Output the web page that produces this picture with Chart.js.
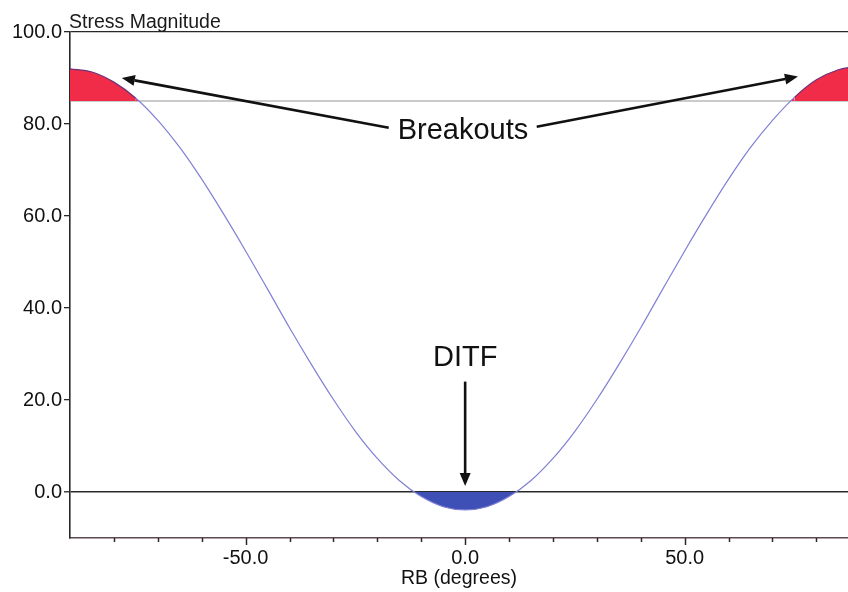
<!DOCTYPE html>
<html><head><meta charset="utf-8">
<script src="https://cdn.jsdelivr.net/npm/chart.js@4"></script>
<style>html,body{margin:0;padding:0;background:#fff;overflow:hidden}#wrap{width:848px;height:592px;position:relative}</style>
</head><body><div id="wrap"><canvas id="c"></canvas></div>
<script>
// ---- data ----
const angles = [-90,-85,-80,-75,-70,-65,-60,-55,-50,-45,-40,-35,-30,-25,-20,-15,-10,-5,0,5,10,15,20,25,30,35,40,45,50,55,60,65,70,75,80,85,90];
const stress = [92.0,91.3,89.1,85.6,80.8,74.9,68.0,60.4,52.4,44.1,35.7,27.7,20.1,13.2,7.3,2.5,-1.0,-3.2,-3.9,-3.2,-1.0,2.5,7.3,13.2,20.1,27.7,35.7,44.1,52.4,60.4,68.0,74.9,80.8,85.8,89.6,91.8,92.6];
const breakoutThreshold = 85;
const ditfThreshold = 0;
const yTickValues = [0,20,40,60,80,100];
const xTickValues = [-80,-70,-60,-50,-40,-30,-20,-10,0,10,20,30,40,50,60,70,80];
const xLabelValues = [-50,0,50];
const xRange = [-90, 87.2];
const yRange = [-10, 100];

// annotation anchors (data units)
const annotationTexts = [
  {text:'Breakouts', x:-0.5, y:78.5},
  {text:'DITF', x:0, y:29.1}
];
const annotationArrows = [
  {from:[-17.4,79.2], to:[-78.2,90.0]},
  {from:[16.3,79.4], to:[75.8,90.3]},
  {from:[0,24.0], to:[0,1.3]}
];

const FONT = '"Liberation Sans", Arial, Helvetica, sans-serif';
const lineBlue = 'rgb(128,128,214)';
const borderPurple = 'rgb(110,50,120)';
const red = 'rgb(240,44,72)';
const blue = 'rgb(62,80,182)';
const axisDark = 'rgb(40,40,40)';

const pts = angles.map((a,i)=>({x:a,y:stress[i]}));

const annotPlugin = {
  id:'annot',
  afterDatasetsDraw(chart){
    const {ctx, scales:{x,y}, chartArea} = chart;
    ctx.save();
    // x tick marks (major longer)
    ctx.strokeStyle = axisDark;
    ctx.lineWidth = 1.5;
    xTickValues.forEach(v=>{
      const px = Math.round(x.getPixelForValue(v))+0.5;
      const len = xLabelValues.includes(v) ? 7 : 4;
      ctx.beginPath(); ctx.moveTo(px, chartArea.bottom); ctx.lineTo(px, chartArea.bottom+len); ctx.stroke();
    });
    // y-axis caption
    ctx.fillStyle = '#1a1a1a';
    ctx.font = '19.5px ' + FONT;
    ctx.textAlign = 'left';
    ctx.textBaseline = 'alphabetic';
    ctx.fillText('Stress Magnitude', chartArea.left - 1, chartArea.top - 4);
    // texts
    ctx.font = '29px ' + FONT;
    ctx.textAlign = 'center';
    ctx.textBaseline = 'middle';
    ctx.fillStyle = '#111';
    annotationTexts.forEach(t=>ctx.fillText(t.text, x.getPixelForValue(t.x), y.getPixelForValue(t.y)));
    // arrows
    ctx.strokeStyle = '#111';
    ctx.fillStyle = '#111';
    ctx.lineWidth = 2.6;
    annotationArrows.forEach(a=>{
      const x0=x.getPixelForValue(a.from[0]), y0=y.getPixelForValue(a.from[1]);
      const x1=x.getPixelForValue(a.to[0]), y1=y.getPixelForValue(a.to[1]);
      const ang=Math.atan2(y1-y0,x1-x0);
      const L=13, W=5.5;
      const bx=x1-L*Math.cos(ang), by=y1-L*Math.sin(ang);
      ctx.beginPath(); ctx.moveTo(x0,y0); ctx.lineTo(bx,by); ctx.stroke();
      ctx.beginPath();
      ctx.moveTo(x1,y1);
      ctx.lineTo(bx+W*Math.sin(ang), by-W*Math.cos(ang));
      ctx.lineTo(bx-W*Math.sin(ang), by+W*Math.cos(ang));
      ctx.closePath(); ctx.fill();
    });
    ctx.restore();
  }
};

new Chart(document.getElementById('c'), {
  type:'line',
  data:{
    datasets:[
      {
        label:'stress', data:pts, borderColor:lineBlue, borderWidth:1.2, pointRadius:0,
        cubicInterpolationMode:'monotone',
        fill:{target:{value:breakoutThreshold}, above:red, below:'rgba(0,0,0,0)'},
        segment:{borderColor: c => (c.p0.parsed.y>=breakoutThreshold-0.5 && c.p1.parsed.y>=breakoutThreshold-0.5) ? borderPurple : lineBlue},
        order:1
      },
      {
        label:'ditf', data:pts, borderColor:'rgba(0,0,0,0)', borderWidth:0, pointRadius:0,
        cubicInterpolationMode:'monotone',
        fill:{target:{value:ditfThreshold}, above:'rgba(0,0,0,0)', below:blue},
        order:2
      },
      {
        label:'breakout threshold', data:[{x:xRange[0],y:breakoutThreshold},{x:xRange[1],y:breakoutThreshold}],
        borderColor:'rgb(150,150,150)', borderWidth:1.2, pointRadius:0, fill:false, order:3
      }
    ]
  },
  options:{
    responsive:true, maintainAspectRatio:false, animation:false,
    devicePixelRatio:1,
    layout:{padding:{top:32,right:0,left:0,bottom:0}},
    plugins:{legend:{display:false}, tooltip:{enabled:false}},
    scales:{
      x:{
        type:'linear', min:xRange[0], max:xRange[1],
        afterBuildTicks(s){ s.ticks = xTickValues.map(v=>({value:v})); },
        afterFit(s){ s.height = 54; },
        ticks:{
          autoSkip:false, maxRotation:0, padding:2, color:'#111',
          font:{family:FONT, size:20},
          callback:v => xLabelValues.includes(v) ? v.toFixed(1) : ''
        },
        grid:{drawOnChartArea:false, drawTicks:true, tickLength:6, tickColor:'rgba(0,0,0,0)'},
        border:{display:true, color:'rgb(95,72,80)', width:1.6},
        title:{display:true, text:'RB (degrees)', color:'#111', font:{family:FONT, size:19.5}, padding:{top:0,bottom:2}}
      },
      y:{
        type:'linear', min:yRange[0], max:yRange[1],
        afterBuildTicks(s){ s.ticks = yTickValues.map(v=>({value:v})); },
        afterFit(s){ s.width = 70; },
        ticks:{color:'#111', padding:2, font:{family:FONT, size:20}, callback:v=>v.toFixed(1)},
        grid:{
          drawOnChartArea:true, drawTicks:true, tickLength:6, tickColor:axisDark, tickWidth:1.3,
          color: c => (c.tick && (c.tick.value===0 || c.tick.value===100)) ? axisDark : 'rgba(0,0,0,0)',
          lineWidth: c => (c.tick && c.tick.value===0) ? 1.6 : 1.3
        },
        border:{display:true, color:axisDark, width:1.6}
      }
    }
  },
  plugins:[annotPlugin]
});
</script>
</body></html>
